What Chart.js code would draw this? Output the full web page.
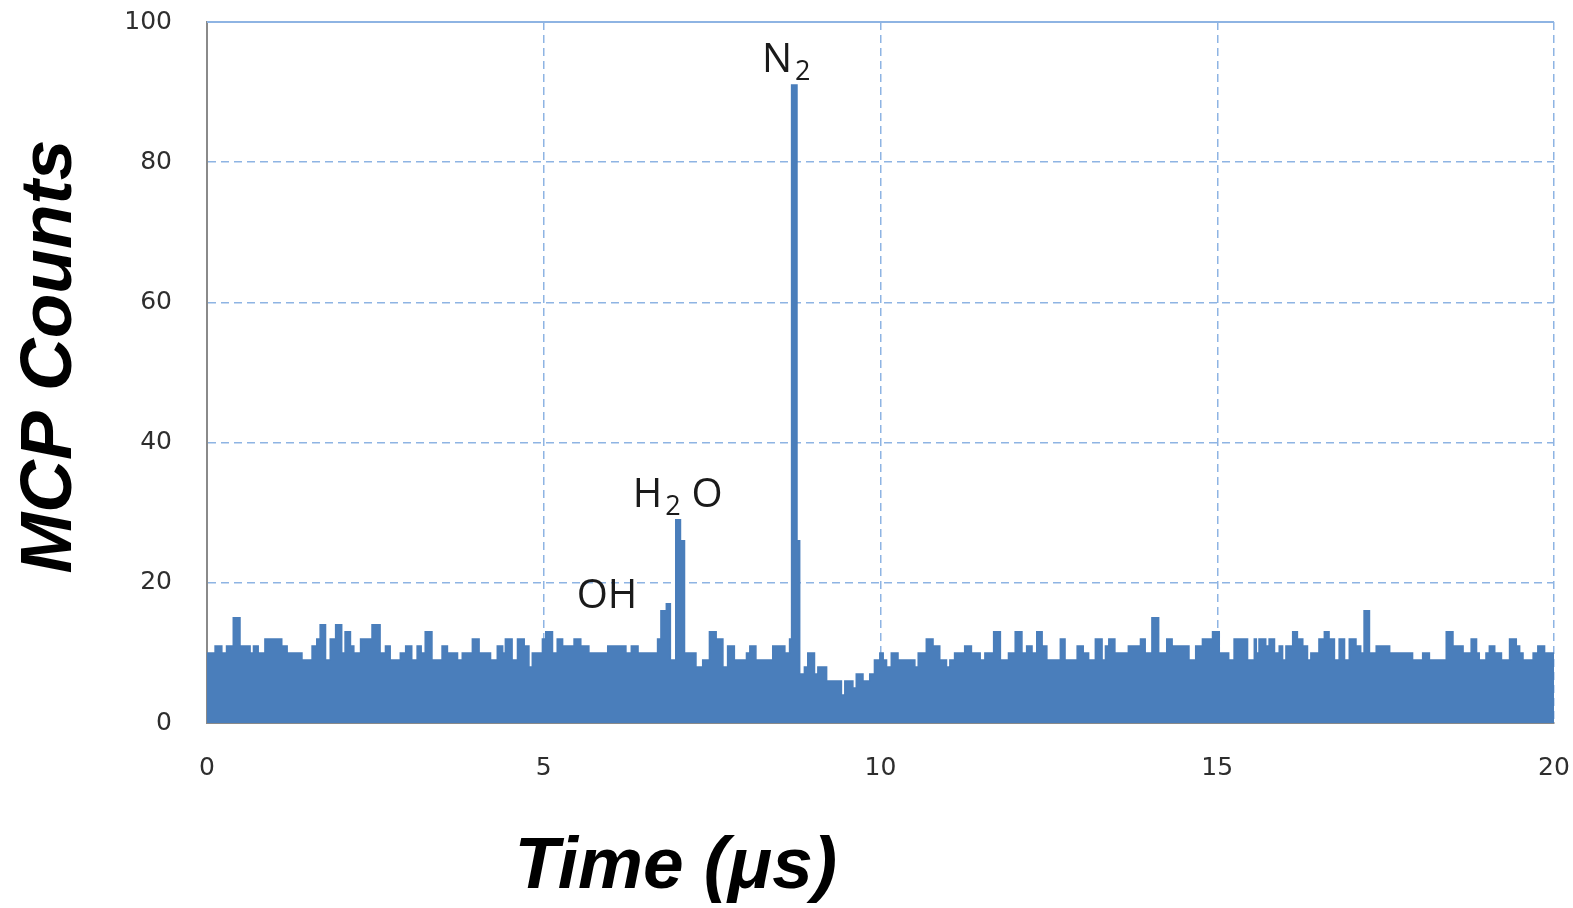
<!DOCTYPE html>
<html>
<head>
<meta charset="utf-8">
<script src="https://cdn.jsdelivr.net/npm/chart.js@4/dist/chart.umd.min.js"></script>
<style>
  html, body { margin: 0; padding: 0; background: #fff; }
  #wrap { width: 1573px; height: 908px; }
</style>
</head>
<body>
<div id="wrap"><canvas id="tof"></canvas></div>
<script>
// flight time (µs) where each step of the trace starts
const times = [
  0, 0.12, 0.22, 0.29, 0.39, 0.49, 0.64, 0.69, 0.76, 0.86, 1.11, 1.19, 1.41, 1.56, 1.63, 1.68, 1.76, 1.83, 1.91,
  2.00, 2.05, 2.13, 2.18, 2.28, 2.45, 2.57, 2.65, 2.72, 2.87, 2.95, 3.04, 3.12, 3.18, 3.24, 3.34, 3.49, 3.57,
  3.72, 3.79, 3.94, 4.04, 4.21, 4.31, 4.39, 4.43, 4.53, 4.61, 4.71, 4.78, 4.83, 4.98, 5.03, 5.13, 5.20, 5.28,
  5.45, 5.55, 5.67, 5.95, 6.22, 6.30, 6.40, 6.69, 6.74, 6.82, 6.88, 6.96, 7.03, 7.09, 7.26, 7.36, 7.46, 7.56,
  7.66, 7.73, 7.83, 8.01, 8.06, 8.15, 8.40, 8.58, 8.65, 8.68, 8.76, 8.80, 8.87, 8.92, 9.02, 9.07, 9.20, 9.42,
  9.47, 9.59, 9.64, 9.74, 9.84, 9.91, 9.99, 10.04, 10.09, 10.16, 10.26, 10.51, 10.56, 10.68, 10.78, 10.88,
  10.98, 11.03, 11.10, 11.25, 11.35, 11.48, 11.55, 11.68, 11.78, 11.90, 12.00, 12.10, 12.17, 12.25, 12.32,
  12.40, 12.47, 12.67, 12.74, 12.92, 13.01, 13.09, 13.19, 13.29, 13.34, 13.39, 13.48, 13.68, 13.86, 13.93,
  14.03, 14.13, 14.25, 14.33, 14.58, 14.68, 14.78, 14.93, 15.03, 15.17, 15.25, 15.45, 15.55, 15.58, 15.62,
  15.72, 15.77, 15.85, 15.92, 15.97, 16.02, 16.12, 16.19, 16.27, 16.34, 16.39, 16.51, 16.59, 16.66, 16.74,
  16.81, 16.89, 16.96, 17.06, 17.13, 17.18, 17.26, 17.36, 17.56, 17.90, 18.05, 18.15, 18.40, 18.50, 18.65,
  18.77, 18.85, 18.89, 18.99, 19.04, 19.12, 19.22, 19.34, 19.44, 19.49, 19.54, 19.69, 19.76, 19.86, 20
];
// MCP counts (upper edge of the trace)
const counts = [
  10, 11, 10, 11, 15, 11, 10, 11, 10, 12, 11, 10, 9, 11, 12, 14, 9, 12, 14,
  10, 13, 11, 10, 12, 14, 10, 11, 9, 10, 11, 9, 11, 10, 13, 9, 11, 10,
  9, 10, 12, 10, 9, 11, 10, 12, 9, 12, 11, 8, 10, 12, 13, 10, 12, 11,
  12, 11, 10, 11, 10, 11, 10, 12, 16, 17, 9, 29, 26, 10, 8, 9, 13, 12,
  8, 11, 9, 10, 11, 9, 11, 10, 12, 91, 26, 7, 8, 10, 7, 8, 6, 4,
  6, 5, 7, 6, 7, 9, 10, 9, 8, 10, 9, 8, 10, 12, 11, 9,
  8, 9, 10, 11, 10, 9, 10, 13, 9, 10, 13, 10, 11, 10, 13,
  11, 9, 12, 9, 11, 10, 9, 12, 9, 11, 12, 10, 11, 12, 10,
  15, 10, 12, 11, 9, 11, 12, 13, 10, 9, 12, 9, 12, 10, 12,
  11, 12, 10, 11, 9, 11, 13, 12, 11, 9, 10, 12, 13, 12, 9,
  12, 9, 12, 11, 10, 16, 10, 11, 10, 9, 10, 9, 13, 11, 10,
  12, 10, 9, 10, 11, 10, 9, 12, 11, 10, 9, 10, 11, 10, 10
];
const xTicks = [0, 5, 10, 15, 20];
const yTicks = [0, 20, 40, 60, 80, 100];

// peak names, placed in data units
const peakLabels = [
  { text: 'OH', t: 5.49, v: 16.4 },
  { text: 'H', sub: '2', after: 'O', t: 6.32, v: 30.8 },
  { text: 'N', sub: '2', t: 8.24, v: 92.9 }
];

const gridBlue = '#8eb4e3';
const axisGrey = '#8a8a8a';
const clear = 'rgba(0,0,0,0)';

const decor = {
  id: 'decor',
  afterDraw(chart) {
    const { ctx, chartArea: a, scales: { x, y } } = chart;
    ctx.save();
    // solid top frame line
    ctx.strokeStyle = gridBlue;
    ctx.lineWidth = 2;
    ctx.beginPath();
    ctx.moveTo(a.left, a.top);
    ctx.lineTo(a.right, a.top);
    ctx.stroke();

    // peak names with subscripts
    ctx.fillStyle = '#1a1a1a';
    ctx.textAlign = 'left';
    ctx.textBaseline = 'alphabetic';
    peakLabels.forEach(p => {
      let px = x.getPixelForValue(p.t);
      const py = y.getPixelForValue(p.v);
      ctx.font = '40px "Open Sans"';
      ctx.fillText(p.text, px, py);
      px += ctx.measureText(p.text).width;
      if (p.sub) {
        ctx.font = '27px "Open Sans"';
        ctx.fillText(p.sub, px + 3, py + 8);
        px += 3 + ctx.measureText(p.sub).width;
      }
      if (p.after) {
        ctx.font = '40px "Open Sans"';
        ctx.fillText(p.after, px + 11, py);
      }
    });

    // axis titles
    ctx.font = 'italic bold 73px "Liberation Sans"';
    ctx.fillStyle = '#000';
    ctx.textAlign = 'center';
    ctx.fillText('Time (μs)', a.left + 0.348 * (a.right - a.left), chart.height - 20);
    ctx.translate(71, (a.top + a.bottom) / 2 - 16);
    ctx.rotate(-Math.PI / 2);
    ctx.fillText('MCP Counts', 0, 0);
    ctx.restore();
  }
};

const tickFont = { family: '"DejaVu Sans"', size: 25 };

new Chart(document.getElementById('tof'), {
  type: 'line',
  data: {
    datasets: [{
      data: times.map((t, i) => ({ x: t, y: counts[i] })),
      stepped: true,
      fill: 'origin',
      backgroundColor: '#4a7ebb',
      borderColor: '#4a7ebb',
      borderWidth: 1.5,
      pointRadius: 0
    }]
  },
  options: {
    responsive: true,
    maintainAspectRatio: false,
    animation: false,
    layout: { padding: { top: 22, right: 19 } },
    plugins: {
      legend: { display: false },
      tooltip: { enabled: false }
    },
    scales: {
      x: {
        type: 'linear',
        min: 0,
        max: 20,
        afterBuildTicks: s => { s.ticks = xTicks.map(v => ({ value: v })); },
        afterFit: s => { s.height = 185; },
        ticks: { font: tickFont, color: '#2e2e2e', padding: 0 },
        grid: {
          drawTicks: true,
          tickLength: 30,
          tickColor: clear,
          lineWidth: 1.5,
          color: c => (c.tick && c.tick.value === 0) ? clear : gridBlue
        },
        border: { color: axisGrey, width: 2, dash: [8, 5] }
      },
      y: {
        min: 0,
        max: 100,
        afterBuildTicks: s => { s.ticks = yTicks.map(v => ({ value: v })); },
        afterFit: s => { s.width = 207; },
        ticks: { font: tickFont, color: '#2e2e2e', padding: 0 },
        grid: {
          drawTicks: true,
          tickLength: 35,
          tickColor: clear,
          lineWidth: 1.5,
          color: c => (c.tick && (c.tick.value === 0 || c.tick.value === 100)) ? clear : gridBlue
        },
        border: { color: axisGrey, width: 2, dash: [8, 5] }
      }
    }
  },
  plugins: [decor]
});
</script>
</body>
</html>
